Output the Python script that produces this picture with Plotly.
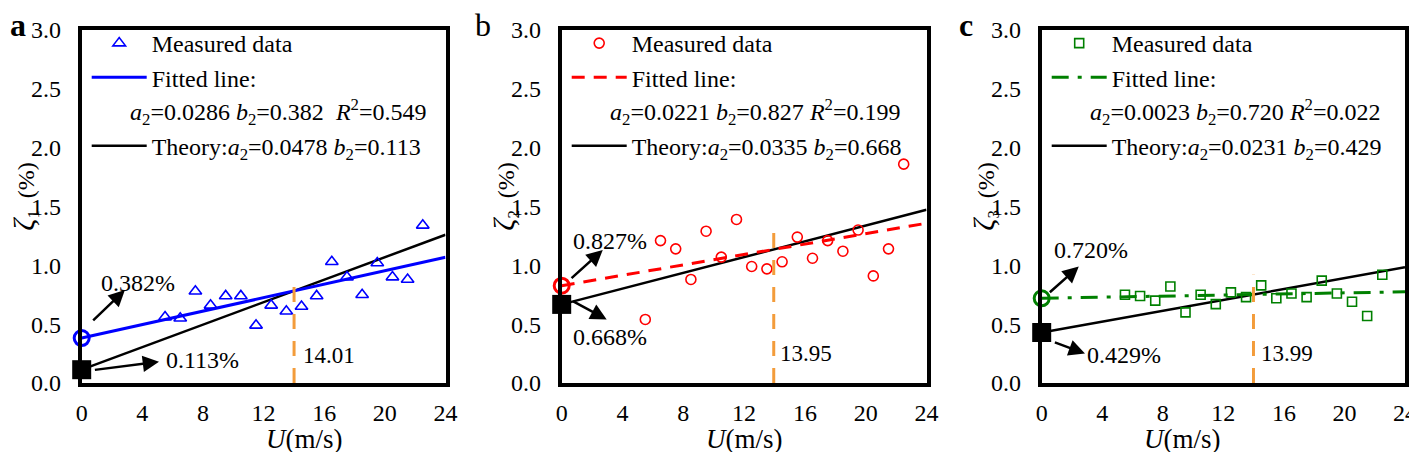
import plotly.graph_objects as go

# ---------------- data ----------------
U = [5.5, 6.5, 7.5, 8.5, 9.5, 10.5, 11.5, 12.5, 13.5, 14.5, 15.5, 16.5, 17.5, 18.5, 19.5, 20.5, 21.5, 22.5]
zeta1 = [0.56, 0.55, 0.78, 0.66, 0.74, 0.74, 0.49, 0.66, 0.61, 0.65, 0.74, 1.03, 0.90, 0.75, 1.02, 0.90, 0.88, 1.34]
zeta2 = [0.54, 1.21, 1.14, 0.88, 1.29, 1.07, 1.39, 0.99, 0.97, 1.03, 1.24, 1.06, 1.21, 1.12, 1.30, 0.91, 1.14, 1.86]
zeta3 = [0.75, 0.74, 0.70, 0.82, 0.60, 0.75, 0.67, 0.77, 0.73, 0.83, 0.72, 0.76, 0.73, 0.87, 0.76, 0.69, 0.57, 0.92]

fit_a = [0.0286, 0.0221, 0.0023]
fit_b = [0.382, 0.827, 0.720]
fit_R2 = [0.549, 0.199, 0.022]
theo_a = [0.0478, 0.0335, 0.0231]
theo_b = [0.113, 0.668, 0.429]
cross_U = [14.01, 13.95, 13.99]
cross_top = [0.89, 1.31, 0.92]
U_range = [0, 24]
x_ticks = [0, 4, 8, 12, 16, 20, 24]
y_ticks = [0.0, 0.5, 1.0, 1.5, 2.0, 2.5, 3.0]
panel_letters = ["a", "b", "c"]

# ---------------- styles ----------------
W, H = 1417, 452
OFF = 8  # page body margin of the html page
FONT = "Liberation Serif, Times New Roman, serif"
colors = ["#0000FF", "#FF0000", "#008000"]
symbols = ["triangle-up-open", "circle-open", "square-open"]
msizes = [11, 10, 9]
fit_dash = ["solid", "13px,9px", "17px,9px,4px,9px"]
ORANGE = "#F39C3B"
zetas = [zeta1, zeta2, zeta3]

left_px = [81.7, 561.7, 1041.7]
right_px = [445.5, 926.5, 1405.0]
letter_px = [18, 483, 966]
top_px, bot_px = 30.0, 383.0


def px_x(p):
    return (p - OFF) / W


def px_y(p):
    return 1 - (p - OFF) / H


# annotation placements (data coords of each panel)
up_arrow = [((0.66, 0.52), (2.85, 0.79)), ((0.55, 0.88), (2.7, 1.13)), ((0.44, 0.76), (2.45, 0.99))]
dn_arrow = [((0.77, 0.11), (5.1, 0.18)), ((0.66, 0.70), (2.96, 0.54)), ((0.77, 0.35), (2.86, 0.25))]
up_text = [(3.72, 0.85), (3.18, 1.21), (3.24, 1.13)]
dn_text = [(7.98, 0.195), (3.18, 0.395), (5.45, 0.238)]
cross_text_pos = [(14.45, 0.232), (14.2, 0.252), (14.35, 0.252)]

fig = go.Figure()
annotations = []

for i in range(3):
    n = "" if i == 0 else str(i + 1)
    xa, ya = "x" + n, "y" + n
    leg = "legend" + n
    c = colors[i]
    Ufit = U_range
    fit_y = [fit_b[i] + fit_a[i] * u for u in Ufit]
    theo_y = [theo_b[i] + theo_a[i] * u for u in Ufit]

    # theory line
    fig.add_trace(go.Scatter(
        x=Ufit, y=theo_y, mode="lines", xaxis=xa, yaxis=ya, legend=leg, legendrank=4,
        line=dict(color="black", width=2.5),
        name=f"Theory:<i>a</i><sub>2</sub>={theo_a[i]:.4f} <i>b</i><sub>2</sub>={theo_b[i]:.3f}"))
    # fitted line
    fig.add_trace(go.Scatter(
        x=Ufit, y=fit_y, mode="lines", xaxis=xa, yaxis=ya, legend=leg, legendrank=2,
        line=dict(color=c, width=3, dash=fit_dash[i]), name="Fitted line:"))
    # spacer legend row
    fig.add_trace(go.Scatter(
        x=[None], y=[None], mode="lines", xaxis=xa, yaxis=ya, legend=leg, legendrank=3,
        line=dict(color="rgba(0,0,0,0)", width=0), name=" ", hoverinfo="skip"))
    # measured
    fig.add_trace(go.Scatter(
        x=U, y=zetas[i], mode="markers", xaxis=xa, yaxis=ya, legend=leg, legendrank=1,
        marker=dict(symbol=symbols[i], size=msizes[i], color=c, line=dict(width=1.6, color=c)),
        name="Measured data"))
    # intersection line
    fig.add_trace(go.Scatter(
        x=[cross_U[i], cross_U[i]], y=[0, cross_top[i]], mode="lines", xaxis=xa, yaxis=ya,
        line=dict(color=ORANGE, width=3, dash="15px,12px"), showlegend=False, cliponaxis=False))
    # intercept markers
    fig.add_trace(go.Scatter(
        x=[0], y=[theo_b[i]], mode="markers", xaxis=xa, yaxis=ya, showlegend=False, cliponaxis=False,
        marker=dict(symbol="square", size=19, color="black")))
    fig.add_trace(go.Scatter(
        x=[0], y=[fit_b[i]], mode="markers", xaxis=xa, yaxis=ya, showlegend=False, cliponaxis=False,
        marker=dict(symbol="circle-open", size=15, color=c, line=dict(width=3, color=c))))

    dom_x = [px_x(left_px[i]), px_x(right_px[i])]
    dom_y = [px_y(bot_px), px_y(top_px)]
    axis_common = dict(showline=True, mirror=True, linewidth=4, linecolor="black",
                       showgrid=False, zeroline=False, ticks="", automargin=False,
                       tickfont=dict(family=FONT, size=24, color="black"))
    fig.update_layout({
        "xaxis" + n: dict(domain=dom_x, range=U_range, anchor=ya, tickvals=x_ticks,
                          ticklabelstandoff=5, **axis_common),
        "yaxis" + n: dict(domain=dom_y, range=[0, 3], anchor=xa, tickvals=y_ticks, tickformat=".1f",
                          ticklabelstandoff=12, **axis_common),
        leg: dict(x=px_x(left_px[i] + 5), xanchor="left", y=px_y(21), yanchor="top",
                  bgcolor="rgba(0,0,0,0)", borderwidth=0, itemwidth=55, tracegroupgap=0,
                  font=dict(family=FONT, size=24, color="black")),
    })

    # fit parameter text line in legend
    sp = "&nbsp;&nbsp;" if i == 0 else " "
    annotations.append(dict(
        xref="paper", yref="paper", x=px_x(left_px[i] + 46), y=px_y(112),
        xanchor="left", yanchor="middle", showarrow=False,
        text=f"<i>a</i><sub>2</sub>={fit_a[i]:.4f} <i>b</i><sub>2</sub>={fit_b[i]:.3f}{sp}<i>R</i><sup>2</sup>={fit_R2[i]:.3f}",
        font=dict(family=FONT, size=24, color="black")))

    # arrows
    for (tail, head) in (up_arrow[i], dn_arrow[i]):
        annotations.append(dict(
            xref=xa, yref=ya, axref=xa, ayref=ya, x=head[0], y=head[1], ax=tail[0], ay=tail[1],
            text="", showarrow=True, arrowhead=2, arrowsize=1.3, arrowwidth=2.5, arrowcolor="black",
            standoff=0, startstandoff=0))
    annotations.append(dict(xref=xa, yref=ya, x=up_text[i][0], y=up_text[i][1], showarrow=False,
                            text=f"{fit_b[i]:.3f}%", font=dict(family=FONT, size=24, color="black")))
    annotations.append(dict(xref=xa, yref=ya, x=dn_text[i][0], y=dn_text[i][1], showarrow=False,
                            text=f"{theo_b[i]:.3f}%", font=dict(family=FONT, size=24, color="black")))
    annotations.append(dict(xref=xa, yref=ya, x=cross_text_pos[i][0], y=cross_text_pos[i][1],
                            xanchor="left", showarrow=False, text=f"{cross_U[i]:.2f}",
                            font=dict(family=FONT, size=23, color="black")))

    # axis titles
    annotations.append(dict(xref="paper", yref="paper", x=px_x((left_px[i] + right_px[i]) / 2),
                            y=px_y(439), yanchor="middle", showarrow=False,
                            text="<i>U</i>(m/s)", font=dict(family=FONT, size=27, color="black")))
    annotations.append(dict(xref="paper", yref="paper", x=px_x(left_px[i] - 57),
                            y=px_y(196), xanchor="center", yanchor="middle", showarrow=False,
                            textangle=-90,
                            text=f"<span style='font-size:30px'><i>ζ</i></span><sub>{i+1}</sub>&nbsp; (%)",
                            font=dict(family=FONT, size=24, color="black")))
    # panel letter
    annotations.append(dict(xref="paper", yref="paper", x=px_x(letter_px[i]), y=px_y(25),
                            xanchor="center", yanchor="middle", showarrow=False,
                            text=(f"<b>{panel_letters[i]}</b>" if i != 1 else panel_letters[i]),
                            font=dict(family=FONT, size=32, color="black")))

fig.update_layout(
    template="none",
    width=W, height=H, margin=dict(l=0, r=0, t=0, b=0, pad=0),
    paper_bgcolor="white", plot_bgcolor="white",
    font=dict(family=FONT, color="black"),
    annotations=annotations,
)

fig.write_html("out.html")
